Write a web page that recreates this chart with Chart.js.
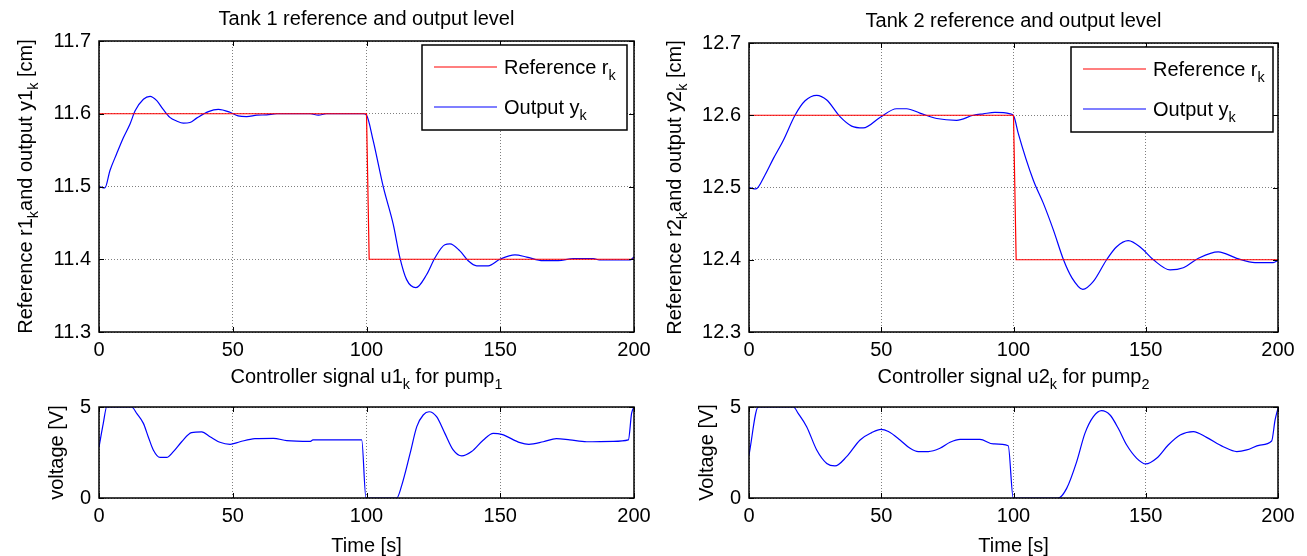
<!DOCTYPE html>
<html>
<head>
<meta charset="utf-8">
<script src="https://cdn.jsdelivr.net/npm/chart.js@4.4.1/dist/chart.umd.min.js"></script>
<style>
  html, body { margin: 0; padding: 0; background: #fff; }
  #fig { position: relative; width: 1307px; height: 556px; overflow: hidden; background: #fff; }
  .panel { position: absolute; }
</style>
</head>
<body>
<div id="fig">
  <div class="panel" style="left:0;top:0"><canvas id="tank1" width="650" height="390"></canvas></div>
  <div class="panel" style="left:650px;top:0"><canvas id="tank2" width="657" height="390"></canvas></div>
  <div class="panel" style="left:0;top:355px"><canvas id="pump1" width="650" height="201"></canvas></div>
  <div class="panel" style="left:650px;top:355px"><canvas id="pump2" width="657" height="201"></canvas></div>
</div>
<script>
// ---- data ----
const timeTicks = [0, 50, 100, 150, 200];
const seriesLabels = ['Reference r_{k}', 'Output y_{k}'];

// reference steps (both tanks step down at t = 100 s)
const tRef = [0, 100, 101, 200];
const r1 = [11.6, 11.6, 11.4, 11.4];
const r2 = [12.6, 12.6, 12.4, 12.4];

// tank 1 output level
const tY1 = [0, 2.2, 4.1, 6.6, 9.1, 11.6, 13.5, 16.6, 19.1, 21.6,
             24, 26.5, 29, 31.5, 34, 36.5, 40.9, 44.6, 49, 52,
             55.2, 59, 62.7, 66.5, 79, 82, 85, 98.8, 100, 102.5,
             106.3, 110, 112.5, 115, 118.5, 122.5, 125.6, 129.3, 131.2, 134.9,
             138, 141.2, 145.5, 149.9, 155.5, 159.9, 166, 171.7, 177.3, 184.8,
             187, 198.5, 200];
const y1 = [11.5, 11.498, 11.522, 11.545, 11.567, 11.586, 11.604, 11.62, 11.624, 11.618,
            11.606, 11.595, 11.59, 11.587, 11.588, 11.594, 11.603, 11.606, 11.602, 11.597,
            11.596, 11.598, 11.5985, 11.6, 11.6, 11.598, 11.6, 11.6, 11.598, 11.563,
            11.499, 11.448, 11.402, 11.372, 11.361, 11.379, 11.402, 11.42, 11.421, 11.4115,
            11.398, 11.391, 11.391, 11.40, 11.406, 11.403, 11.398, 11.398, 11.401, 11.401,
            11.399, 11.399, 11.403];

// tank 2 output level
const tY2 = [0, 2.6, 6, 9.2, 13, 17.4, 21.2, 25.6, 29.4, 34.4,
             38.8, 43.2, 49.5, 55.8, 59.6, 64.6, 71, 78.5, 84.8, 88.6,
             93, 98.7, 100.2, 101.8, 107.5, 111.3, 115.1, 118.9, 122.1, 126.2,
             130.2, 135.2, 139, 143.4, 148.4, 152.9, 159.2, 164.2, 169.9, 177.4,
             184.4, 191.3, 198.2, 200];
const y2 = [12.5, 12.498, 12.517, 12.54, 12.5655, 12.6, 12.62, 12.6276, 12.621, 12.598,
            12.585, 12.5825, 12.597, 12.609, 12.609, 12.603, 12.5955, 12.593, 12.6, 12.602,
            12.604, 12.602, 12.598, 12.575, 12.51, 12.478, 12.441, 12.40, 12.375, 12.359,
            12.37, 12.40, 12.418, 12.4265, 12.416, 12.40, 12.386, 12.389, 12.402, 12.411,
            12.402, 12.396, 12.396, 12.399];

// pump 1 controller signal
const tU1 = [0, 1.6, 2.9, 12.2, 14.1, 16.6, 18.4, 20.3, 22.8, 25.3,
             27.8, 30.9, 34.6, 38.4, 41.5, 45.2, 49, 52.7, 58.3, 65.2,
             70.2, 78.9, 80, 98.2, 99.8, 111.3, 113.2, 116.3, 118.8, 121.2,
             123.4, 126.2, 129.3, 132.4, 135.6, 139.3, 143.7, 147.4, 150.5, 157.4,
             160.7, 166.1, 171, 176, 182.3, 192.2, 197.9, 199.1, 200];
const u1 = [2.8, 4.1, 5, 5, 4.65, 4.1, 3.37, 2.64, 2.23, 2.23,
            2.55, 3.09, 3.59, 3.63, 3.37, 3.06, 2.95, 3.09, 3.26, 3.28,
            3.15, 3.11, 3.19, 3.19, 0, 0, 0.71, 2.45, 3.92, 4.56,
            4.74, 4.47, 3.55, 2.64, 2.31, 2.55, 3.19, 3.55, 3.5, 3.04,
            2.95, 3.09, 3.26, 3.19, 3.09, 3.11, 3.19, 4.65, 5];

// pump 2 controller signal
const tU2 = [0, 3.5, 16.8, 18.6, 21.8, 25.6, 29.4, 32.5, 36.9, 42,
             46.4, 49.9, 52.7, 57.1, 60.9, 64, 67.8, 72.2, 76, 79.8,
             87.3, 92.4, 98, 99.9, 116.9, 120.1, 123.9, 127, 130.2, 133.3,
             136.5, 139.6, 142.8, 146.6, 150, 154.1, 158.5, 163, 168, 173,
             179.3, 184.4, 188.2, 193.2, 197.6, 198.9, 200];
const u2 = [2.36, 5, 5, 4.65, 3.92, 2.64, 1.9, 1.76, 2.27, 3.19,
            3.59, 3.77, 3.65, 3.19, 2.73, 2.55, 2.55, 2.73, 3.06, 3.22,
            3.22, 2.97, 2.87, 0, 0, 0.53, 2.0, 3.55, 4.47, 4.8,
            4.56, 3.83, 2.91, 2.18, 1.87, 2.18, 2.91, 3.46, 3.65, 3.33,
            2.82, 2.55, 2.64, 2.91, 3.13, 4.29, 4.93];

const FONT = "'Liberation Sans', Arial, sans-serif";
const RED = '#ff0000';
const BLUE = '#0000ff';

const pts = (xs, ys) => xs.map((x, i) => ({ x: x, y: ys[i] }));

// split "abc_{k}def" into normal / subscript pieces
function richParts(s) {
  const parts = [];
  const re = /_\{([^}]*)\}/g;
  let last = 0, m;
  while ((m = re.exec(s))) {
    if (m.index > last) parts.push({ t: s.slice(last, m.index), sub: false });
    parts.push({ t: m[1], sub: true });
    last = re.lastIndex;
  }
  if (last < s.length) parts.push({ t: s.slice(last), sub: false });
  return parts;
}

function drawRich(ctx, s, x, y, size, align, rot) {
  const parts = richParts(s);
  const subSize = size * 0.72;
  let w = 0;
  parts.forEach(p => {
    ctx.font = (p.sub ? subSize : size) + 'px ' + FONT;
    p.w = ctx.measureText(p.t).width;
    w += p.w;
  });
  ctx.save();
  ctx.translate(x, y);
  if (rot) ctx.rotate(rot);
  let cx = align === 'center' ? -w / 2 : (align === 'right' ? -w : 0);
  ctx.textAlign = 'left';
  ctx.textBaseline = 'alphabetic';
  ctx.fillStyle = '#000';
  parts.forEach(p => {
    ctx.font = (p.sub ? subSize : size) + 'px ' + FONT;
    ctx.fillText(p.t, cx, p.sub ? size * 0.3 : 0);
    cx += p.w;
  });
  ctx.restore();
}

// MATLAB-like box, inner ticks, legend and labels
const matlabFrame = {
  id: 'matlabFrame',
  afterDraw(chart, args, o) {
    const ctx = chart.ctx;
    const a = chart.chartArea;
    const xs = chart.scales.x, ys = chart.scales.y;
    ctx.save();
    ctx.strokeStyle = '#000';
    ctx.lineWidth = 1;
    ctx.beginPath();
    xs.ticks.forEach(t => {
      const px = Math.round(xs.getPixelForValue(t.value)) + 0.5;
      ctx.moveTo(px, a.top); ctx.lineTo(px, a.top + 5);
      ctx.moveTo(px, a.bottom); ctx.lineTo(px, a.bottom - 5);
    });
    ys.ticks.forEach(t => {
      const py = Math.round(ys.getPixelForValue(t.value)) + 0.5;
      ctx.moveTo(a.left, py); ctx.lineTo(a.left + 5, py);
      ctx.moveTo(a.right, py); ctx.lineTo(a.right - 5, py);
    });
    ctx.stroke();
    ctx.lineWidth = 1.5;
    ctx.strokeRect(a.left, a.top, a.right - a.left, a.bottom - a.top);

    if (o.legend) {
      const L = o.legend;
      const bx = a.right - L.right - L.w, by = a.top + L.top;
      ctx.fillStyle = '#fff';
      ctx.fillRect(bx, by, L.w, L.h);
      ctx.lineWidth = 1.5;
      ctx.strokeStyle = '#000';
      ctx.strokeRect(bx, by, L.w, L.h);
      chart.data.datasets.forEach((ds, i) => {
        const ly = by + 22 + i * 40;
        ctx.strokeStyle = ds.borderColor;
        ctx.lineWidth = 1.2;
        ctx.beginPath();
        ctx.moveTo(bx + 12, ly); ctx.lineTo(bx + 75, ly);
        ctx.stroke();
        drawRich(ctx, ds.label, bx + 82, ly + 7, 20, 'left', 0);
      });
    }
    const cxm = (a.left + a.right) / 2, cym = (a.top + a.bottom) / 2;
    if (o.title) drawRich(ctx, o.title, cxm, a.top - o.titleGap, 20, 'center', 0);
    if (o.xlabel) drawRich(ctx, o.xlabel, cxm, a.bottom + 54, 20, 'center', 0);
    if (o.ylabel) drawRich(ctx, o.ylabel, a.left - o.ylabelGap, cym, 20, 'center', -Math.PI / 2);
    ctx.restore();
  }
};
Chart.register(matlabFrame);

function makePanel(id, p) {
  return new Chart(document.getElementById(id), {
    type: 'line',
    data: { datasets: p.datasets },
    options: {
      responsive: false,
      animation: false,
      devicePixelRatio: 1,
      layout: { padding: { left: 0, top: p.top, right: p.right, bottom: 0 } },
      elements: { point: { radius: 0 }, line: { tension: 0 } },
      plugins: {
        legend: { display: false },
        tooltip: { enabled: false },
        matlabFrame: p.frame
      },
      scales: {
        x: {
          type: 'linear', min: 0, max: 200,
          afterBuildTicks: s => { s.ticks = timeTicks.map(v => ({ value: v })); },
          afterFit: s => { s.height = p.xh; s.paddingLeft = 0; s.paddingRight = 0; },
          ticks: { color: '#000', font: { family: FONT, size: 20 }, padding: 6, maxRotation: 0, autoSkip: false },
          grid: { color: 'rgba(0,0,0,0.5)', lineWidth: 1, drawTicks: false },
          border: { display: false, dash: [1, 2] }
        },
        y: {
          min: p.yTicks[0], max: p.yTicks[p.yTicks.length - 1],
          afterBuildTicks: s => { s.ticks = p.yTicks.map(v => ({ value: v })); },
          afterFit: s => { s.width = 99; s.paddingTop = 0; s.paddingBottom = 0; },
          ticks: { color: '#000', font: { family: FONT, size: 20 }, padding: 8,
                   callback: v => v.toFixed(p.dec) },
          grid: { color: 'rgba(0,0,0,0.5)', lineWidth: 1, drawTicks: false },
          border: { display: false, dash: [1, 2] }
        }
      }
    }
  });
}

const lineDs = (label, data, color, smooth) => ({
  label: label, data: data, borderColor: color, backgroundColor: color,
  borderWidth: 1.2, fill: false,
  cubicInterpolationMode: smooth ? 'monotone' : 'default'
});

makePanel('tank1', {
  top: 41, right: 16, xh: 58, yTicks: [11.3, 11.4, 11.5, 11.6, 11.7], dec: 1,
  datasets: [lineDs(seriesLabels[0], pts(tRef, r1), RED, false),
             lineDs(seriesLabels[1], pts(tY1, y1), BLUE, true)],
  frame: { title: 'Tank 1 reference and output level', titleGap: 16,
           ylabel: 'Reference r1_{k}and output y1_{k} [cm]', ylabelGap: 67,
           legend: { w: 205, h: 85, right: 7, top: 4 } }
});
makePanel('tank2', {
  top: 43, right: 29, xh: 58, yTicks: [12.3, 12.4, 12.5, 12.6, 12.7], dec: 1,
  datasets: [lineDs(seriesLabels[0], pts(tRef, r2), RED, false),
             lineDs(seriesLabels[1], pts(tY2, y2), BLUE, true)],
  frame: { title: 'Tank 2 reference and output level', titleGap: 16,
           ylabel: 'Reference r2_{k}and output y2_{k} [cm]', ylabelGap: 68,
           legend: { w: 202, h: 85, right: 5, top: 4 } }
});
makePanel('pump1', {
  top: 52, right: 16, xh: 58, yTicks: [0, 5], dec: 0,
  datasets: [lineDs('u1', pts(tU1, u1), BLUE, true)],
  frame: { title: 'Controller signal u1_{k} for pump_{1}', titleGap: 24,
           xlabel: 'Time [s]', ylabel: 'voltage [V]', ylabelGap: 36 }
});
makePanel('pump2', {
  top: 52, right: 29, xh: 58, yTicks: [0, 5], dec: 0,
  datasets: [lineDs('u2', pts(tU2, u2), BLUE, true)],
  frame: { title: 'Controller signal u2_{k} for pump_{2}', titleGap: 24,
           xlabel: 'Time [s]', ylabel: 'Voltage [V]', ylabelGap: 36 }
});
</script>
</body>
</html>
